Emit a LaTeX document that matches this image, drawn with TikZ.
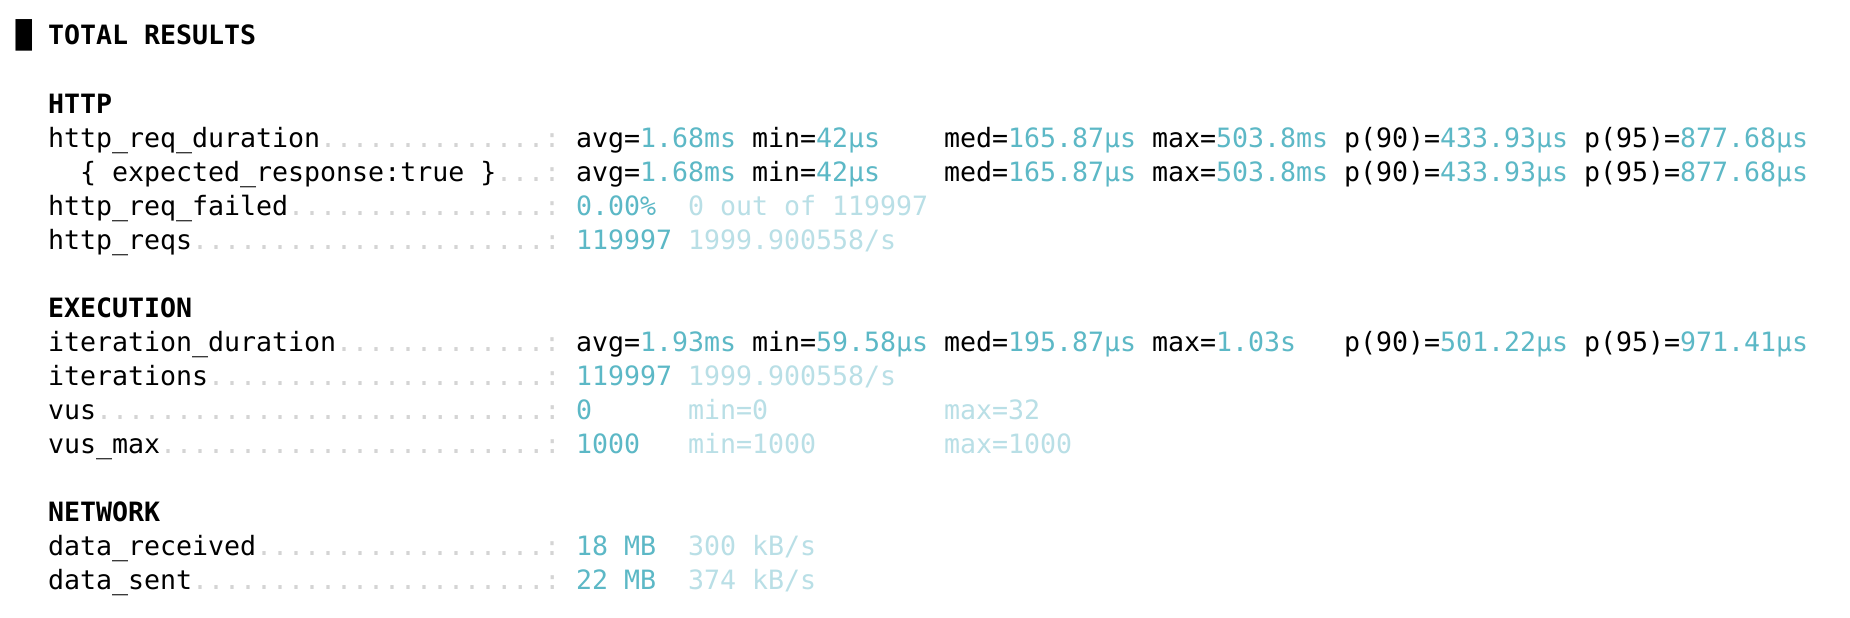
\documentclass[tikz,border=0pt]{standalone}
\usepackage{fontspec}
\setmonofont{DejaVu Sans Mono}
\usepackage{xcolor}
\usepackage{tikz}
\definecolor{valc}{HTML}{5CB8C6}
\definecolor{dimc}{HTML}{B9DFE6}
\definecolor{dotc}{HTML}{D4D4D4}
\newcommand{\val}[1]{\textcolor{valc}{#1}}

\begin{document}
\begin{tikzpicture}[
    x=16pt, y=-34.06pt,
    txt/.style={anchor=base west,inner sep=0pt,outer sep=0pt,font=\ttfamily\fontsize{26.6}{34}\selectfont},
    hdr/.style={txt,font=\ttfamily\bfseries\fontsize{26.6}{34}\selectfont},
    lead/.style={txt,text=dotc},
    num/.style={txt,text=valc},
    faint/.style={txt,text=dimc}
]
\fill[white] (-16pt,45pt) rectangle (1834pt,-573pt);
\useasboundingbox (-16pt,45pt) rectangle (1834pt,-573pt);
\node[txt] (blk) at (0,0) {█};
\node[hdr] (total) at (2,0) {TOTAL RESULTS};
% HTTP
\node[hdr] (http) at (2,2) {HTTP};
\node[txt] (dur) at (2,3) {http\_req\_duration};
\node[lead] (dur-l) at (19,3) {..............:};
\node[txt] (dur-avg) at (35,3) {avg=\val{1.68ms}};
\node[txt] (dur-min) at (46,3) {min=\val{42µs}};
\node[txt] (dur-med) at (58,3) {med=\val{165.87µs}};
\node[txt] (dur-max) at (71,3) {max=\val{503.8ms}};
\node[txt] (dur-p90) at (83,3) {p(90)=\val{433.93µs}};
\node[txt] (dur-p95) at (98,3) {p(95)=\val{877.68µs}};
\node[txt] (exp) at (4,4) {\{ expected\_response:true \}};
\node[lead] (exp-l) at (30,4) {...:};
\node[txt] (exp-avg) at (35,4) {avg=\val{1.68ms}};
\node[txt] (exp-min) at (46,4) {min=\val{42µs}};
\node[txt] (exp-med) at (58,4) {med=\val{165.87µs}};
\node[txt] (exp-max) at (71,4) {max=\val{503.8ms}};
\node[txt] (exp-p90) at (83,4) {p(90)=\val{433.93µs}};
\node[txt] (exp-p95) at (98,4) {p(95)=\val{877.68µs}};
\node[txt] (fail) at (2,5) {http\_req\_failed};
\node[lead] (fail-l) at (17,5) {................:};
\node[num] (fail-v) at (35,5) {0.00\%};
\node[faint] (fail-n) at (42,5) {0 out of 119997};
\node[txt] (reqs) at (2,6) {http\_reqs};
\node[lead] (reqs-l) at (11,6) {......................:};
\node[num] (reqs-v) at (35,6) {119997};
\node[faint] (reqs-r) at (42,6) {1999.900558/s};
% EXECUTION
\node[hdr] (exec) at (2,8) {EXECUTION};
\node[txt] (iter) at (2,9) {iteration\_duration};
\node[lead] (iter-l) at (20,9) {.............:};
\node[txt] (iter-avg) at (35,9) {avg=\val{1.93ms}};
\node[txt] (iter-min) at (46,9) {min=\val{59.58µs}};
\node[txt] (iter-med) at (58,9) {med=\val{195.87µs}};
\node[txt] (iter-max) at (71,9) {max=\val{1.03s}};
\node[txt] (iter-p90) at (83,9) {p(90)=\val{501.22µs}};
\node[txt] (iter-p95) at (98,9) {p(95)=\val{971.41µs}};
\node[txt] (its) at (2,10) {iterations};
\node[lead] (its-l) at (12,10) {.....................:};
\node[num] (its-v) at (35,10) {119997};
\node[faint] (its-r) at (42,10) {1999.900558/s};
\node[txt] (vus) at (2,11) {vus};
\node[lead] (vus-l) at (5,11) {............................:};
\node[num] (vus-v) at (35,11) {0};
\node[faint] (vus-min) at (42,11) {min=0};
\node[faint] (vus-max) at (58,11) {max=32};
\node[txt] (vmax) at (2,12) {vus\_max};
\node[lead] (vmax-l) at (9,12) {........................:};
\node[num] (vmax-v) at (35,12) {1000};
\node[faint] (vmax-min) at (42,12) {min=1000};
\node[faint] (vmax-max) at (58,12) {max=1000};
% NETWORK
\node[hdr] (net) at (2,14) {NETWORK};
\node[txt] (recv) at (2,15) {data\_received};
\node[lead] (recv-l) at (15,15) {..................:};
\node[num] (recv-v) at (35,15) {18 MB};
\node[faint] (recv-r) at (42,15) {300 kB/s};
\node[txt] (sent) at (2,16) {data\_sent};
\node[lead] (sent-l) at (11,16) {......................:};
\node[num] (sent-v) at (35,16) {22 MB};
\node[faint] (sent-r) at (42,16) {374 kB/s};
\end{tikzpicture}
\end{document}
